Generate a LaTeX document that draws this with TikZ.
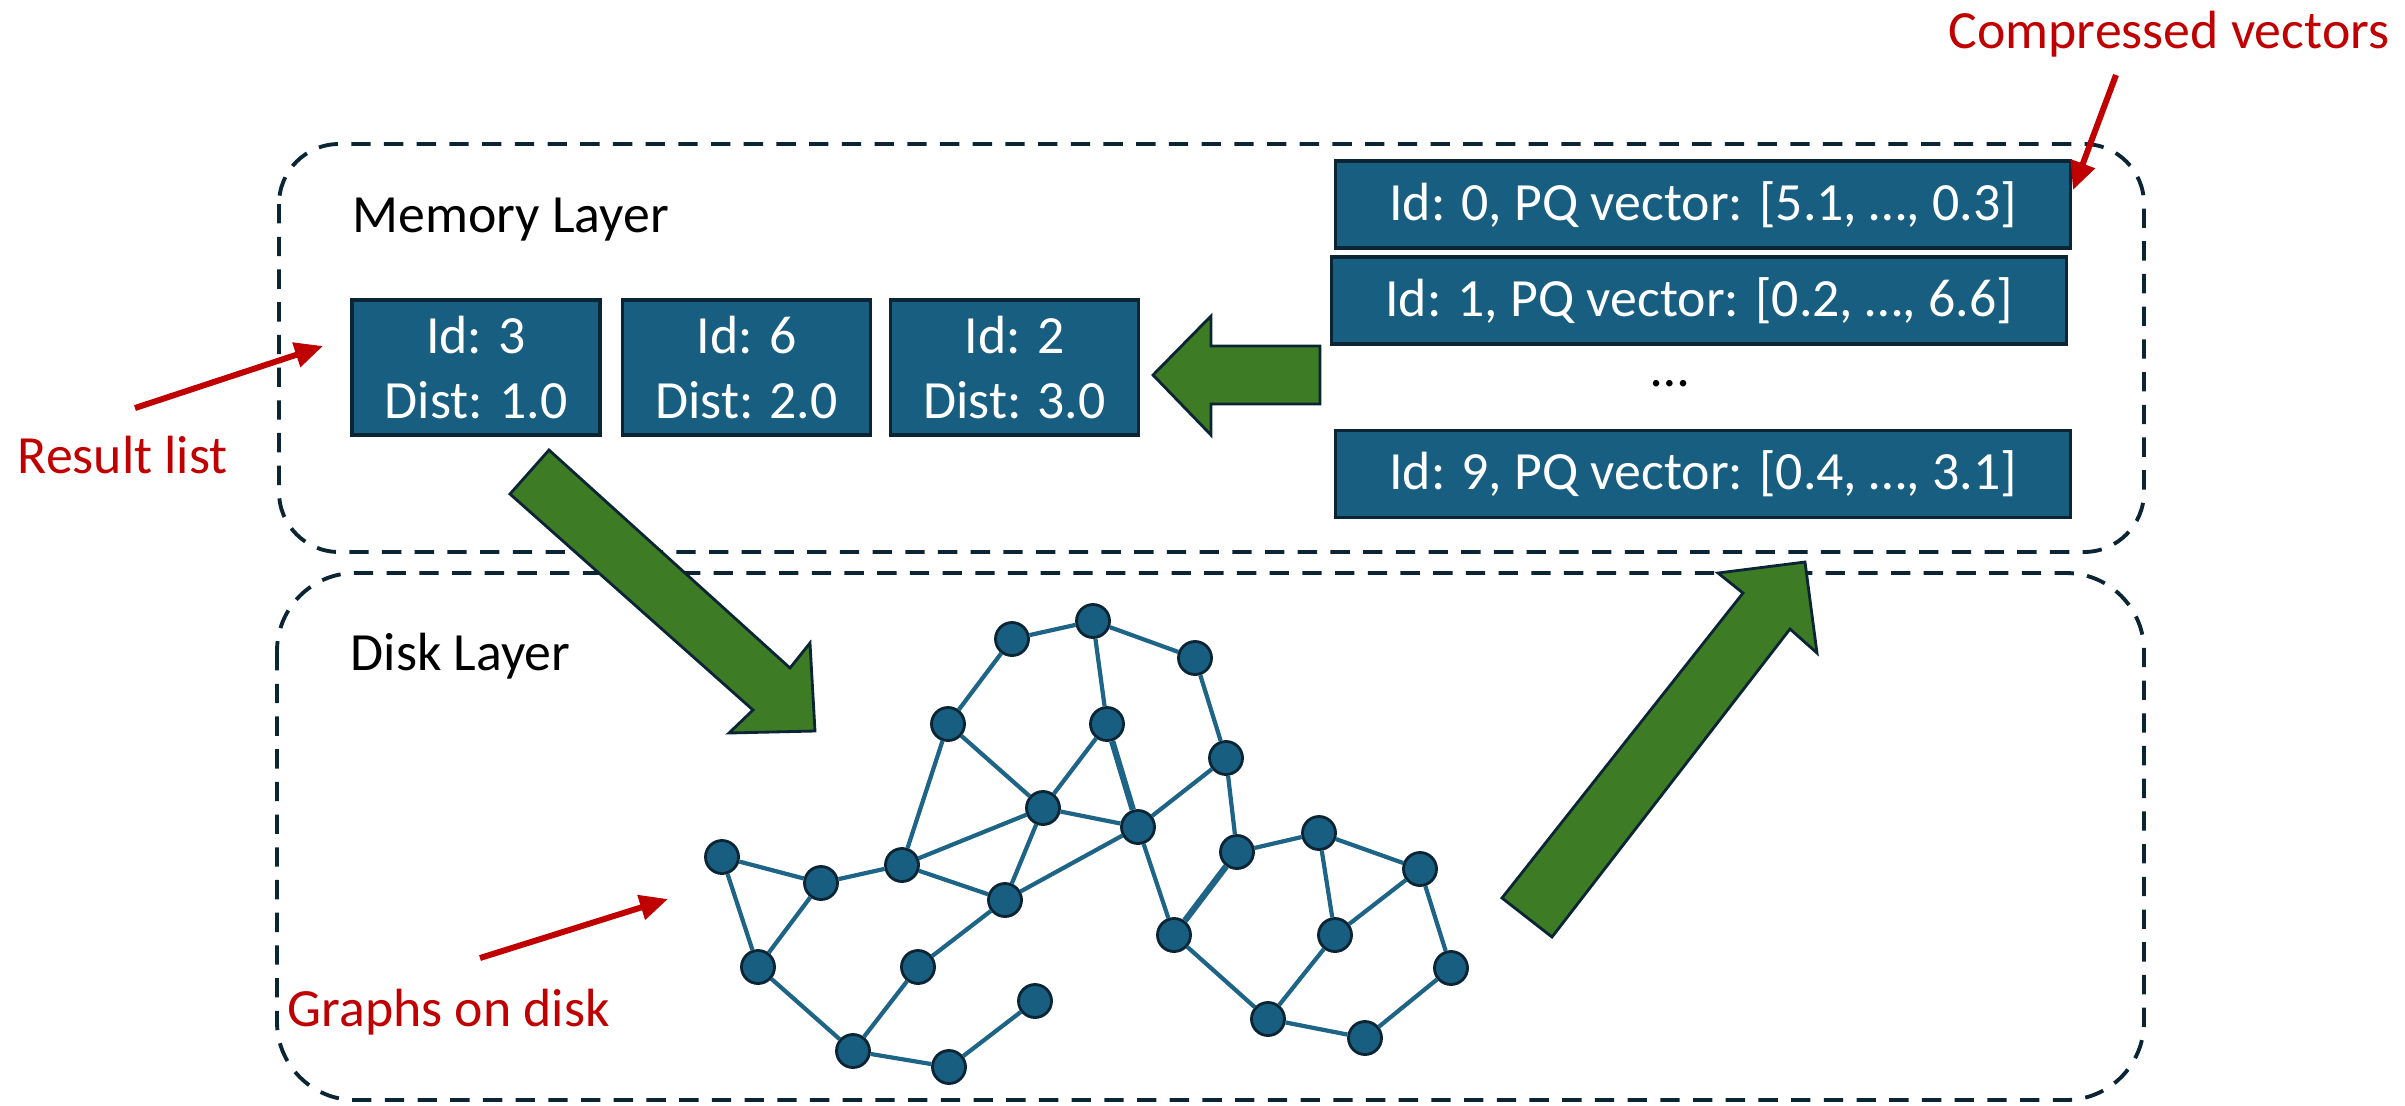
\documentclass[tikz,border=0pt]{standalone}
\usepackage{fontspec}
\setmainfont{Carlito}
\usetikzlibrary{arrows.meta}
\definecolor{boxblue}{RGB}{23,94,128}
\definecolor{edgeblue}{RGB}{30,100,135}
\definecolor{darkline}{RGB}{11,37,53}
\definecolor{arrgreen}{RGB}{61,123,36}
\definecolor{redtxt}{RGB}{192,0,0}
\begin{document}
\begin{tikzpicture}[x=0.01cm,y=-0.01cm,
  every node/.style={font=\fontsize{15.3}{18.5}\selectfont},
  layerbox/.style={draw=darkline,line width=1.1pt,dash pattern=on 5.5pt off 3.8pt},
  rbox/.style={draw=darkline,fill=boxblue,line width=0.9pt,text=white,align=center,
    minimum width=2.48cm,minimum height=1.35cm,inner sep=0pt},
  vbox/.style={draw=darkline,fill=boxblue,line width=0.9pt,text=white,
    minimum width=7.34cm,minimum height=0.87cm,inner sep=0pt},
  gnode/.style={circle,draw=darkline,fill=boxblue,line width=0.8pt,minimum size=0.33cm,inner sep=0pt},
  gedge/.style={draw=edgeblue,line width=1.2pt},
  gedgethick/.style={draw=edgeblue,line width=1.8pt},
  garrow/.style={draw=darkline,fill=arrgreen,line width=0.8pt,line join=miter},
  redarrow/.style={draw=redtxt,line width=1.7pt,-{Triangle[length=8pt,width=7pt]}},
  lbl/.style={anchor=base west,inner sep=0pt},
  redlbl/.style={anchor=base west,inner sep=0pt,text=redtxt}]
\useasboundingbox (0,0) rectangle (2405,1105);

% layer boxes
\draw[layerbox,rounded corners=0.6cm] (279,144) rectangle (2144,552);
\draw[layerbox,rounded corners=0.78cm] (277,573) rectangle (2144,1100);

% labels
\node[lbl] (memlbl) at (352,232) {Memory Layer};
\node[lbl] (disklbl) at (350,670) {Disk Layer};
\node[redlbl] (reslbl) at (17,473) {Result list};
\node[redlbl] (graphlbl) at (287,1026) {Graphs on disk};
\node[redlbl] (complbl) at (1948,48) {Compressed vectors};

% result boxes
\node[rbox] (r1) at (476,367.5) {Id: 3\\Dist: 1.0};
\node[rbox] (r2) at (746.5,367.5) {Id: 6\\Dist: 2.0};
\node[rbox] (r3) at (1014.5,367.5) {Id: 2\\Dist: 3.0};

% vector boxes
\node[vbox] (v0) at (1703,204.5) {Id: 0, PQ vector: [5.1, …, 0.3]};
\node[vbox] (v1) at (1699,300.5) {Id: 1, PQ vector: [0.2, …, 6.6]};
\node (vdots) at (1670,384) {…};
\node[vbox] (v9) at (1703,474) {Id: 9, PQ vector: [0.4, …, 3.1]};

% green block arrows
\draw[garrow] (1153,375) -- (1211,316) -- (1211,346) -- (1320,346) -- (1320,404)
  -- (1211,404) -- (1211,435) -- cycle;
\draw[garrow] (549,450) -- (790,668) -- (810,643) -- (815,731) -- (729,733)
  -- (753,710) -- (510,494) -- cycle;
\draw[garrow] (1502,898) -- (1743,593) -- (1718,573) -- (1805,562) -- (1817,653)
  -- (1790,629) -- (1552,937) -- cycle;

% red pointer arrows
\coordinate (resfrom) at (135,408);
\coordinate (resto) at (323,346);
\draw[redarrow] (resfrom) -- (resto);
\coordinate (graphfrom) at (480,958);
\coordinate (graphto) at (668,899);
\draw[redarrow] (graphfrom) -- (graphto);
\coordinate (compfrom) at (2116,75);
\coordinate (compto) at (2073,190);
\draw[redarrow] (compfrom) -- (compto);

% graph nodes
\node[gnode] (a1) at (1012,639) {};
\node[gnode] (a2) at (1093,621) {};
\node[gnode] (a3) at (948,724) {};
\node[gnode] (a4) at (1107,724) {};
\node[gnode] (a5) at (1043,808) {};
\node[gnode] (a6) at (1138,827) {};
\node[gnode] (a7) at (722,857) {};
\node[gnode] (a8) at (821,883) {};
\node[gnode] (a9) at (902,865) {};
\node[gnode] (a10) at (1005,900) {};
\node[gnode] (a11) at (758,967) {};
\node[gnode] (a12) at (918,967) {};
\node[gnode] (a13) at (1035,1001) {};
\node[gnode] (a14) at (853,1051) {};
\node[gnode] (a15) at (949,1067) {};
\node[gnode] (a16) at (1174,935) {};
\node[gnode] (a17) at (1195,658) {};
\node[gnode] (a18) at (1226,758) {};
\node[gnode] (a19) at (1237,852) {};
\node[gnode] (a20) at (1319,833) {};
\node[gnode] (a21) at (1420,869) {};
\node[gnode] (a22) at (1335,935) {};
\node[gnode] (a23) at (1451,968) {};
\node[gnode] (a24) at (1268,1019) {};
\node[gnode] (a25) at (1365,1038) {};

% graph edges
\foreach \u/\v in {a1/a2,a2/a17,a2/a4,a1/a3,a3/a5,a3/a9,a4/a5,a5/a6,a5/a9,a5/a10,
  a6/a10,a6/a16,a6/a18,a7/a8,a7/a11,a8/a11,a8/a9,a9/a10,a10/a12,a11/a14,a12/a14,
  a14/a15,a15/a13,a17/a18,a18/a19,a19/a20,a20/a21,a20/a22,a21/a22,a21/a23,
  a16/a24,a22/a24,a24/a25,a25/a23}
  \draw[gedge] (\u) -- (\v);
\draw[gedgethick] (a4) -- (a6);
\draw[gedgethick] (a19) -- (a16);
\end{tikzpicture}
\end{document}
